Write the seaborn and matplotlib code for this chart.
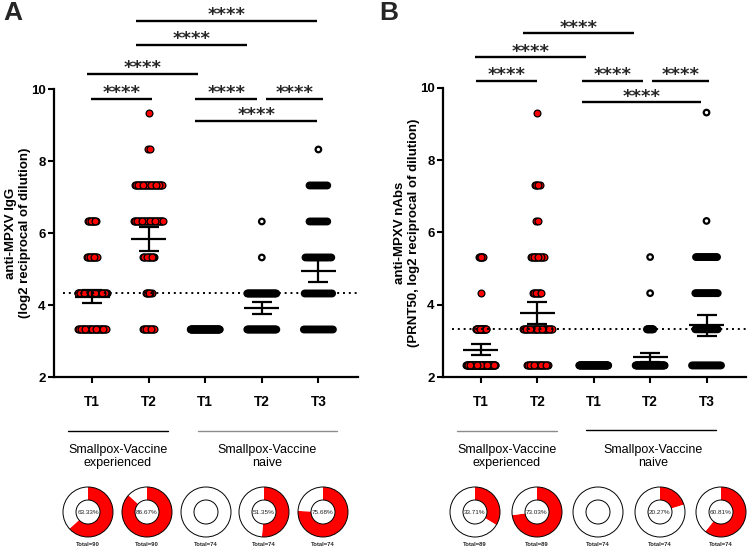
import numpy as np
import pandas as pd
import matplotlib
matplotlib.use("Agg")
import matplotlib.pyplot as plt
import seaborn as sns
from matplotlib.patches import Circle
from matplotlib.lines import Line2D

# ------------------------------------------------------------------ data
tick_labels = ["T1", "T2", "T1", "T2", "T3"]
cohorts = ["experienced", "experienced", "naive", "naive", "naive"]

# Panel A: anti-MPXV IgG (log2 reciprocal of dilution)
igg_levels = [3.32, 4.32, 5.32, 6.32, 7.32, 8.32, 9.32]
igg_counts = [
    [33, 35, 12, 10, 0, 0, 0],    # experienced T1
    [12, 6, 11, 30, 28, 2, 1],    # experienced T2
    [74, 0, 0, 0, 0, 0, 0],       # naive T1
    [36, 36, 1, 1, 0, 0, 0],      # naive T2
    [18, 17, 16, 11, 11, 1, 0],   # naive T3
]
igg_mean = [4.23, 5.83, 3.32, 3.92, 4.94]
igg_err = [0.18, 0.33, 0.0, 0.16, 0.30]
igg_cutoff = 4.32

# Panel B: anti-MPXV nAbs (PRNT50, log2 reciprocal of dilution)
nab_levels = [2.32, 3.32, 4.32, 5.32, 6.32, 7.32, 8.32, 9.32]
nab_counts = [
    [59, 22, 1, 7, 0, 0, 0, 0],     # experienced T1
    [24, 33, 9, 15, 2, 5, 0, 1],    # experienced T2
    [74, 0, 0, 0, 0, 0, 0, 0],      # naive T1
    [59, 13, 1, 1, 0, 0, 0, 0],     # naive T2
    [22, 17, 17, 16, 1, 0, 0, 1],   # naive T3
]
nab_mean = [2.76, 3.78, 2.32, 2.54, 3.43]
nab_err = [0.16, 0.30, 0.0, 0.12, 0.30]
nab_cutoff = 3.32

# percentage of responders (donuts) and totals
igg_pct = [63.33, 86.67, 0.0, 51.35, 75.68]
igg_total = [90, 90, 74, 74, 74]
nab_pct = [33.71, 73.03, 0.0, 20.27, 60.81]
nab_total = [89, 89, 74, 74, 74]

sig_label = "****"
group_names = ["Smallpox-Vaccine\nexperienced", "Smallpox-Vaccine\nnaive"]

# ------------------------------------------------------------------ layout
W, H = 749, 551
def fx(px):
    return px / W
def fy(py):
    return 1 - py / H

HALF = 0.257  # max half width of a dot band (data units)

# bracket layout (x start, x end, y) in data units
bracketsA = [(-0.02, 1.06, 9.72), (-0.09, 1.88, 10.42), (0.78, 2.74, 11.22),
             (0.78, 3.98, 11.89), (1.82, 2.92, 9.72), (3.08, 4.09, 9.72),
             (1.82, 3.98, 9.11)]
bracketsB = [(-0.09, 1.00, 10.20), (-0.11, 1.86, 10.85), (0.74, 2.71, 11.51),
             (1.79, 2.87, 10.20), (3.03, 4.04, 10.20), (1.79, 3.91, 9.60)]

sns.set_theme(style="ticks")
plt.rcParams["font.family"] = ["Liberation Sans", "DejaVu Sans"]


def build(levels, counts):
    rows = []
    for g, cnts in enumerate(counts):
        M = max(cnts)
        for lev, n in zip(levels, cnts):
            if n == 0:
                continue
            span = 2 * HALF * (n / M) if n > 1 else 0.0
            offs = np.linspace(-span / 2, span / 2, n)
            order = np.argsort((np.arange(n) * 0.618034) % 1)
            for k in order:
                rows.append(dict(group=g, x=g + offs[k], value=lev,
                                 cohort=cohorts[g]))
    return pd.DataFrame(rows)


def panel(ax, levels, counts, means, errs, cutoff, brackets, ylabel):
    df = build(levels, counts)
    exp = df[df.cohort == "experienced"]
    nai = df[df.cohort == "naive"]
    sns.scatterplot(data=exp, x="x", y="value", ax=ax, color="#ff0000",
                    edgecolor="black", linewidth=0.9, s=24, legend=False,
                    zorder=2, clip_on=False)
    sns.scatterplot(data=nai, x="x", y="value", ax=ax, color="black",
                    edgecolor="black", linewidth=1.6, s=16, legend=False,
                    zorder=2, clip_on=False)
    ax.collections[-1].set_facecolor("none")

    pos = np.arange(len(means))
    ax.hlines(means, pos - 0.31, pos + 0.31, color="black", lw=1.6, zorder=4)
    ax.errorbar(pos, means, yerr=errs, fmt="none", ecolor="black",
                elinewidth=1.6, capsize=7, capthick=1.6, zorder=4)

    ax.set_xlim(-0.673, 4.70)
    ax.set_ylim(2, 10)
    ax.hlines(cutoff, -0.52, 4.70, colors="black", lw=1.4,
              linestyles=(0, (1, 2)), zorder=3)

    for x1, x2, y in brackets:
        ax.plot([x1, x2], [y, y], color="black", lw=1.7, clip_on=False,
                solid_capstyle="butt")
        ax.text((x1 + x2) / 2, y + 0.02, sig_label, ha="center",
                va="baseline", fontsize=13, family="DejaVu Sans",
                fontweight="bold", clip_on=False)

    ax.set_xticks(pos)
    ax.set_xticklabels(tick_labels, fontsize=9.8, fontweight="bold")
    ax.set_yticks([2, 4, 6, 8, 10])
    ax.set_yticklabels(["2", "4", "6", "8", "10"], fontsize=9.5,
                       fontweight="bold")
    ax.tick_params(axis="both", width=1.5, length=4, color="black",
                   labelcolor="black")
    ax.tick_params(axis="x", pad=9)
    ax.tick_params(axis="y", pad=2)
    ax.set_xlabel("")
    ax.set_ylabel(ylabel, fontsize=9.5, fontweight="bold", labelpad=0,
                  color="black")
    sns.despine(ax=ax)
    for sp in ("left", "bottom"):
        ax.spines[sp].set_linewidth(1.6)
        ax.spines[sp].set_color("black")
    ax.patch.set_alpha(0)


fig = plt.figure(figsize=(7.49, 5.51), dpi=100)
axA = fig.add_axes([fx(54), fy(377), fx(358) - fx(54), fy(89) - fy(377)])
axB = fig.add_axes([fx(443), fy(377), fx(746) - fx(443), fy(88) - fy(377)])

panel(axA, igg_levels, igg_counts, igg_mean, igg_err, igg_cutoff, bracketsA,
      "anti-MPXV IgG\n(log2 reciprocal of dilution)")
panel(axB, nab_levels, nab_counts, nab_mean, nab_err, nab_cutoff, bracketsB,
      "anti-MPXV nAbs\n(PRNT50, log2 reciprocal of dilution)")

fig.text(fx(3), fy(1), "A", fontsize=19, fontweight="bold", ha="left", va="top")
fig.text(fx(379), fy(1), "B", fontsize=19, fontweight="bold", ha="left", va="top")

# group lines and names
group_lines = [((68, 168, 431), "black"), ((198, 337, 431), "#8c8c8c"),
               ((457, 557, 431), "#8c8c8c"), ((586, 716, 430), "black")]
for (x1, x2, y), c in group_lines:
    fig.add_artist(Line2D([fx(x1), fx(x2)], [fy(y), fy(y)], color=c, lw=1.0))
for cx, name in zip([118, 267, 507, 653], group_names * 2):
    fig.text(fx(cx), fy(456.5), name, ha="center", va="center", fontsize=9,
             linespacing=1.2, color="black")

# donuts
def donut(cx, cy, pct, total):
    r = 25
    dax = fig.add_axes([fx(cx - r * 1.05), fy(cy + r * 1.05),
                        fx(2 * r * 1.05), fx(2 * r * 1.05) * W / H])
    dax.pie([pct, 100 - pct], colors=["#ff0000", "white"], startangle=90,
            counterclock=False, radius=1,
            wedgeprops=dict(width=0.52, edgecolor="none"))
    dax.add_patch(Circle((0, 0), 1.0, fill=False, lw=0.7, ec="black"))
    dax.add_patch(Circle((0, 0), 0.48, fill=False, lw=0.7, ec="black"))
    dax.set_xlim(-1.05, 1.05)
    dax.set_ylim(-1.05, 1.05)
    dax.set_aspect("equal")
    dax.axis("off")
    if pct > 0:
        dax.text(0, 0, f"{pct:.2f}%", ha="center", va="center", fontsize=4.6,
                 color="#222222")
    fig.text(fx(cx), fy(544), f"Total={total}", ha="center", va="center",
             fontsize=4.2, fontweight="bold")

for cx, p, t in zip([88, 147, 206, 264, 323], igg_pct, igg_total):
    donut(cx, 512, p, t)
for cx, p, t in zip([475, 537, 598, 660, 721], nab_pct, nab_total):
    donut(cx, 512, p, t)

fig.savefig("out.png", dpi=100)
